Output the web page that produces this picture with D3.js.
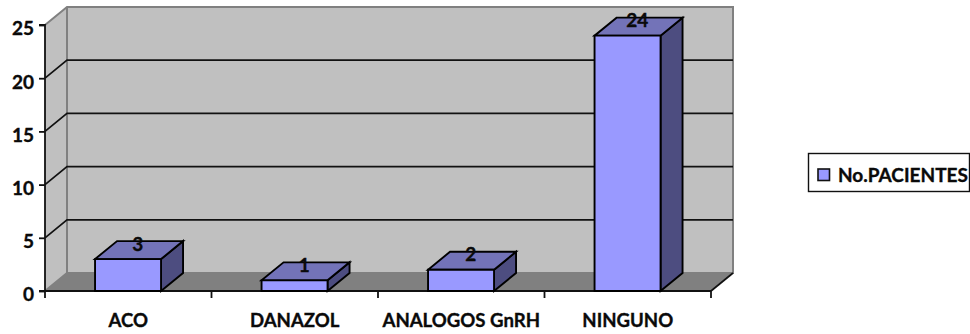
<!DOCTYPE html>
<html>
<head>
<meta charset="utf-8">
<script src="https://cdn.jsdelivr.net/npm/d3@7/dist/d3.min.js"></script>
<style>
html,body{margin:0;padding:0;background:#fff}
svg{display:block}
text{font-family:Lato,"Open Sans",sans-serif;font-weight:700;fill:#0a0a0a;stroke:#0a0a0a;stroke-width:0.35px}
</style>
</head>
<body>
<svg id="chart" width="970" height="334"></svg>
<script>
const categories = ["ACO", "DANAZOL", "ANALOGOS GnRH", "NINGUNO"];
const patients = [3, 1, 2, 24];
const yTicks = [0, 5, 10, 15, 20, 25];
const seriesName = "No.PACIENTES";

const svg = d3.select("#chart");
const depthX = 22, depthY = -18;
const xSlots = d3.scaleBand().domain(categories).range([45, 711]);
const y = d3.scaleLinear().domain([0, 25]).range([291, 25]);

const poly = (pts, fill, stroke, sw) => svg.append("polygon")
  .attr("points", pts.map(p => p.join(",")).join(" "))
  .attr("fill", fill).attr("stroke", stroke || "none").attr("stroke-width", sw || 0)
  .attr("stroke-linejoin", "miter");
const line = (x1, y1, x2, y2, stroke, sw) => svg.append("line")
  .attr("x1", x1).attr("y1", y1).attr("x2", x2).attr("y2", y2)
  .attr("stroke", stroke).attr("stroke-width", sw);

const [xL, xR] = xSlots.range();
const yB = y(0), yT = y(25);

// Box walls and floor
poly([[xL, yB], [xL + depthX, yB + depthY], [xL + depthX, yT + depthY], [xL, yT]], "#c0c0c0");
poly([[xL + depthX, yB + depthY], [xR + depthX, yB + depthY], [xR + depthX, yT + depthY], [xL + depthX, yT + depthY]], "#c0c0c0");
poly([[xL, yB], [xR, yB], [xR + depthX, yB + depthY], [xL + depthX, yB + depthY]], "#808080");

// Wall outlines
svg.append("polyline")
  .attr("points", [[xL, yT], [xL + depthX, yT + depthY], [xR + depthX, yT + depthY], [xR + depthX, yB + depthY], [xL + depthX, yB + depthY], [xL, yB]].map(p => p.join(",")).join(" "))
  .attr("fill", "none").attr("stroke", "#808080").attr("stroke-width", 2);
line(xL + depthX, yT + depthY, xL + depthX, yB + depthY, "#808080", 2);

// Gridlines wrap from the side wall onto the back wall
yTicks.filter(t => t > 0 && t < 25).forEach(t => {
  svg.append("polyline")
    .attr("points", [[xL, y(t)], [xL + depthX, y(t) + depthY], [xR + depthX, y(t) + depthY]].map(p => p.join(",")).join(" "))
    .attr("fill", "none").attr("stroke", "#111").attr("stroke-width", 1.7);
});

// Floor's right edge
line(xR, yB, xR + depthX, yB + depthY, "#111", 1.7);

// Axes
const yAxis = d3.axisLeft(y).tickValues(yTicks).tickSize(6).tickPadding(5);
const yG = svg.append("g").attr("transform", `translate(${xL},0)`).call(yAxis);
yG.selectAll("path,line").attr("stroke", "#111").attr("stroke-width", 1.8);
yG.selectAll("text").style("font-size", "19px").attr("fill", "#0a0a0a").attr("font-family", null).attr("dy", "0.52em");
yG.select("path").attr("d", `M-6,${yT}H0V${yB}`);

const boundaries = categories.map(c => xSlots(c)).concat([xR]);
const xAxisLine = svg.append("g");
xAxisLine.selectAll("line").data(boundaries).join("line")
  .attr("x1", d => d).attr("x2", d => d).attr("y1", yB).attr("y2", yB + 7)
  .attr("stroke", "#111").attr("stroke-width", 1.8);
line(xL - 6, yB, xR, yB, "#111", 2);

// Bars
const barW = 66;
categories.forEach((c, i) => {
  const x0 = xSlots(c) + (xSlots.bandwidth() - barW) / 2 - 0.2;
  const x1 = x0 + barW;
  const yTop = y(patients[i]);
  poly([[x1, yB], [x1 + depthX, yB + depthY], [x1 + depthX, yTop + depthY], [x1, yTop]], "#4d4d80", "#000", 1.9);
  poly([[x0, yTop], [x1, yTop], [x1 + depthX, yTop + depthY], [x0 + depthX, yTop + depthY]], "#7373b8", "#000", 1.9);
  poly([[x0, yB], [x1, yB], [x1, yTop], [x0, yTop]], "#9999ff", "#000", 1.9);
});

// Value labels
svg.append("g").selectAll("text").data(categories).join("text")
  .attr("x", c => xSlots(c) + xSlots.bandwidth() / 2 + 9.5)
  .attr("y", (c, i) => y(patients[i]) - 8.5)
  .attr("text-anchor", "middle")
  .style("font-size", "19px")
  .text((c, i) => patients[i]);

// Category labels
svg.append("g").selectAll("text").data(categories).join("text")
  .attr("x", c => xSlots(c) + xSlots.bandwidth() / 2)
  .attr("y", 326.5)
  .attr("text-anchor", "middle")
  .style("font-size", "18.6px")
  .text(c => c);

// Legend
svg.append("rect").attr("x", 808.5).attr("y", 153.5).attr("width", 161).attr("height", 38)
  .attr("fill", "#fff").attr("stroke", "#111").attr("stroke-width", 1.4);
svg.append("rect").attr("x", 818).attr("y", 169).attr("width", 11.5).attr("height", 11.5)
  .attr("fill", "#9999ff").attr("stroke", "#111").attr("stroke-width", 1.6);
svg.append("text").attr("x", 838).attr("y", 181.5).style("font-size", "19px").text(seriesName);
</script>
</body>
</html>
